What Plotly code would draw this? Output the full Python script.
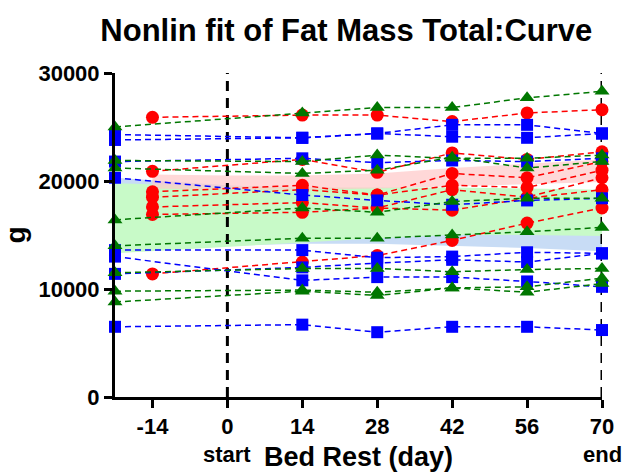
import plotly.graph_objects as go

# ---- data ----
days_rg = [-21, 14, 28, 42, 56, 70]      # blue & green sampling days
days_red = [-14, 14, 28, 42, 56, 70]     # red sampling days

red_series = [
    [25900, 26100, 26100, 25500, 26300, 26600],
    [20900, 22000, 20800, 22600, 22000, 22700],
    [19000, 19600, 18700, 20700, 20300, 21800],
    [18500, 19200, 18700, 19600, 19400, 21000],
    [17600, 18000, 17500, 19200, 18500, 20300],
    [16900, 17100, 17500, 17300, 18400, 19200],
    [11400, 12500, 13100, 14500, 16100, 17500],
]
green_series = [
    [25000, 26300, 26800, 26800, 27700, 28300],
    [21900, 21800, 22400, 22100, 22100, 22400],
    [21200, 20700, 21000, 22200, 21200, 21800],
    [16400, 17500, 17100, 18100, 18400, 18400],
    [14000, 14700, 14700, 15000, 15300, 15700],
    [11500, 11900, 11900, 11600, 11800, 11900],
    [9800, 9900, 9700, 10100, 10200, 11000],
    [8800, 9800, 9400, 10100, 9700, 10500],
]
blue_series = [
    [24300, 24000, 24400, 25200, 25200, 24400],
    [23800, 24000, 24400, 24100, 24000, 24400],
    [21800, 22100, 21700, 21900, 21800, 22100],
    [20300, 18700, 18200, 17800, 18200, 18400],
    [13600, 13600, 12900, 13000, 13400, 13300],
    [13000, 10800, 11100, 11100, 10700, 10200],
    [11400, 12000, 12400, 12700, 12500, 13300],
    [6500, 6700, 6000, 6500, 6500, 6200],
]

# confidence bands (x, upper, lower)
band_x_rg = [-21, 0, 14, 28, 42, 56, 70]
blue_upper = [20300, 19600, 19300, 19000, 18800, 18600, 18500]
blue_lower = [13600, 14000, 14200, 14200, 14000, 13800, 13500]
green_upper = [19800, 19500, 19400, 19400, 19400, 19300, 19200]
green_lower = [13300, 13900, 14300, 14700, 15000, 15000, 14900]
band_x_red = [-14, 0, 14, 28, 42, 56, 70]
red_upper = [20600, 20500, 20500, 20700, 21200, 21600, 22000]
red_lower = [19300, 19200, 19200, 19300, 19500, 19700, 19900]

x_ticks = [-14, 0, 14, 28, 42, 56, 70]
y_ticks = [0, 10000, 20000, 30000]

FONT = "Liberation Sans, Arial, sans-serif"

fig = go.Figure()

def band(xs, up, lo, color):
    fig.add_trace(go.Scatter(
        x=list(xs) + list(xs)[::-1], y=list(up) + list(lo)[::-1],
        fill="toself", fillcolor=color, line=dict(width=0),
        mode="lines", hoverinfo="skip", showlegend=False))

band(band_x_rg, blue_upper, blue_lower, "rgb(200,220,245)")
band(band_x_rg, green_upper, green_lower, "rgb(200,250,200)")
band(band_x_red, red_upper, red_lower, "rgba(255,200,200,0.7)")

# vertical reference lines at start/end
for xv in [0, 70]:
    fig.add_trace(go.Scatter(x=[xv, xv], y=[0, 30000], mode="lines",
                             line=dict(color="black", width=3, dash="10px,7px"),
                             hoverinfo="skip", showlegend=False))

def series(xs, ys_list, color, symbol, size):
    for ys in ys_list:
        fig.add_trace(go.Scatter(
            x=xs, y=ys, mode="lines+markers",
            line=dict(color=color, width=1.5, dash="6px,4px"),
            marker=dict(color=color, symbol=symbol, size=size),
            showlegend=False, cliponaxis=False))

series(days_red, red_series, "#ff0000", "circle", 13)
series(days_rg, blue_series, "#0000ff", "square", 12)
series(days_rg, green_series, "#007700", "triangle-up", 13)

fig.update_layout(
    width=624, height=472,
    margin=dict(l=115, r=22, t=73, b=75),
    plot_bgcolor="white", paper_bgcolor="white",
    font=dict(family=FONT, color="black"),
    title=dict(text="Nonlin fit of Fat Mass Total:Curve", x=0.555, xanchor="center",
               y=0.937, yanchor="middle",
               font=dict(size=31, family=FONT, weight="bold", color="black")),
    xaxis=dict(range=[-21, 70], tickvals=x_ticks, ticktext=[str(v) for v in x_ticks],
               showline=True, linecolor="black", linewidth=3, ticks="outside",
               ticklen=8, tickwidth=3, tickcolor="black", showgrid=False, zeroline=False,
               automargin=False,
               tickfont=dict(size=22, family=FONT, weight="bold"),
               title=dict(text="Bed Rest (day)", font=dict(size=27, family=FONT, weight="bold"),
                          standoff=10)),
    yaxis=dict(range=[0, 30000], tickvals=y_ticks, ticktext=[str(v) for v in y_ticks],
               showline=True, linecolor="black", linewidth=3, ticks="outside",
               ticklen=8, tickwidth=3, tickcolor="black", showgrid=False, zeroline=False,
               automargin=False,
               tickfont=dict(size=22, family=FONT, weight="bold"),
               title=dict(text="g", font=dict(size=28, family=FONT, weight="bold"),
                          standoff=6)),
)

for xv, txt in [(0, "start"), (70, "end")]:
    fig.add_annotation(x=xv, y=0, xref="x", yref="paper", text=txt, showarrow=False,
                       yshift=-72, font=dict(size=22, family=FONT, weight="bold", color="black"))

fig.write_html("out.html")
